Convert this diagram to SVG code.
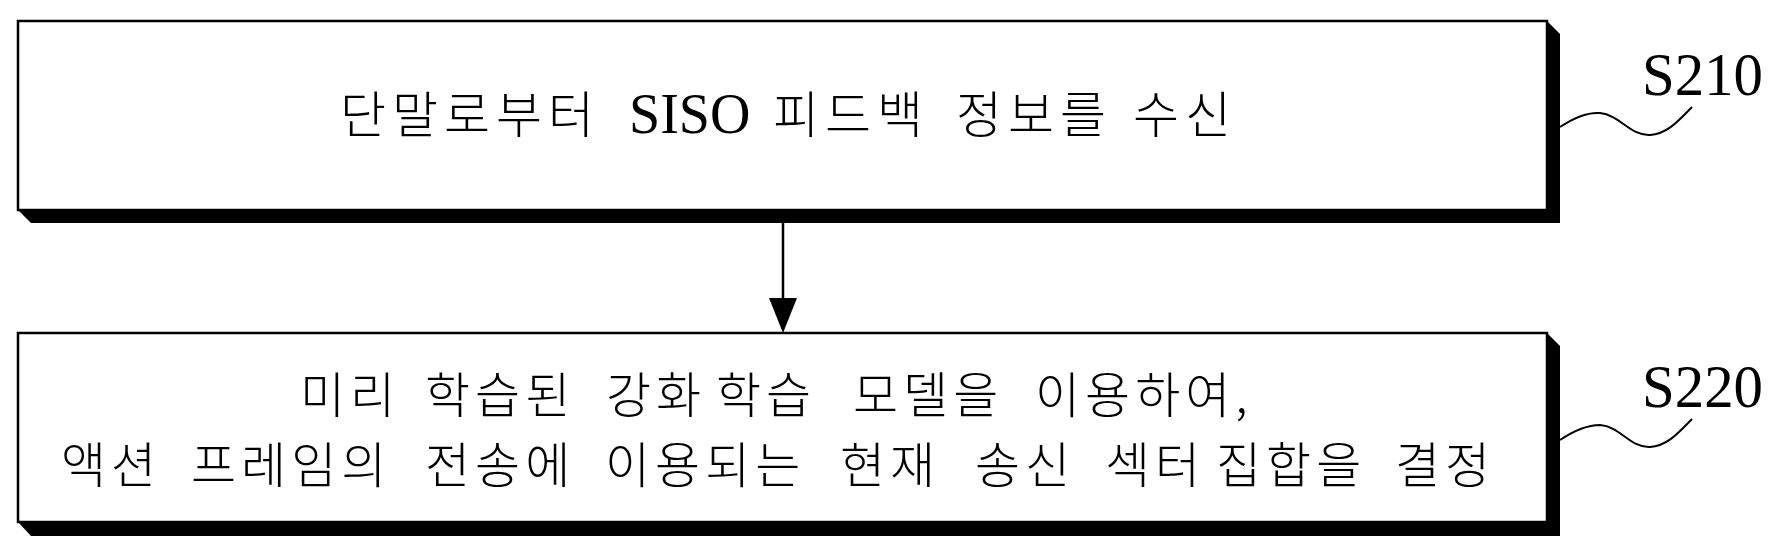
<svg xmlns="http://www.w3.org/2000/svg" width="1783" height="556" viewBox="0 0 1783 556">
  <style>
    .box { fill: #ffffff; stroke: #000000; stroke-width: 2.5; }
    .shadow { fill: #000000; stroke: none; }
    .ko { font-family: "Noto Sans CJK KR", "Noto Sans", sans-serif; font-weight: 300; fill: #000000; }
    .lat { font-family: "Liberation Serif", "Times New Roman", serif; fill: #000000; }
    .lbl { font-family: "Liberation Serif", "Times New Roman", serif; font-size: 62px; fill: #000000; }
    .line { stroke: #000000; stroke-width: 2.5; fill: none; }
    .wave { stroke: #000000; stroke-width: 2; fill: none; }
  </style>

  <g id="connectors">
    <line class="line" x1="783" y1="223" x2="783" y2="300"/>
    <path d="M769,298 L797,298 L783,333 Z" fill="#000000"/>
    <path class="wave" d="M1560,127 C1575,117 1588,112 1600,113 C1620,115 1630,136 1650,135 C1668,134 1680,119 1692,107"/>
    <path class="wave" d="M1560,440 C1575,430 1588,425 1600,425 C1620,426 1630,448 1650,447 C1668,446 1680,431 1692,419"/>
  </g>

  <g id="S210">
    <polygon class="shadow" points="1547,21 1560,34 1560,223 31,223 18,210"/>
    <rect class="box" x="18" y="21" width="1529" height="189"/>
    <text class="ko" font-size="50" letter-spacing="6" y="133"><tspan x="340">단말로부터 </tspan><tspan class="lat" x="629" font-size="56" letter-spacing="0">SISO </tspan><tspan x="773">피드백 </tspan><tspan x="956">정보를 </tspan><tspan x="1133">수신</tspan></text>
  </g>

  <g id="S220">
    <polygon class="shadow" points="1547,333 1560,346 1560,536 31,536 18,522"/>
    <rect class="box" x="18" y="333" width="1529" height="189"/>
    <text class="ko" font-size="49" letter-spacing="5" y="413"><tspan x="300">미리 </tspan><tspan x="425">학습된 </tspan><tspan x="606">강화 </tspan><tspan x="716">학습 </tspan><tspan x="853">모델을 </tspan><tspan x="1035">이용하여,</tspan></text>
    <text class="ko" font-size="49" letter-spacing="5" y="483"><tspan x="61">액션 </tspan><tspan x="191">프레임의 </tspan><tspan x="425">전송에 </tspan><tspan x="605">이용되는 </tspan><tspan x="840">현재 </tspan><tspan x="975">송신 </tspan><tspan x="1105">섹터 </tspan><tspan x="1216">집합을 </tspan><tspan x="1395">결정</tspan></text>
  </g>

  <g id="label-S210">
    <text class="lbl" x="1642" y="95" textLength="121" lengthAdjust="spacingAndGlyphs">S210</text>
  </g>
  <g id="label-S220">
    <text class="lbl" x="1642" y="407" textLength="121" lengthAdjust="spacingAndGlyphs">S220</text>
  </g>
</svg>
